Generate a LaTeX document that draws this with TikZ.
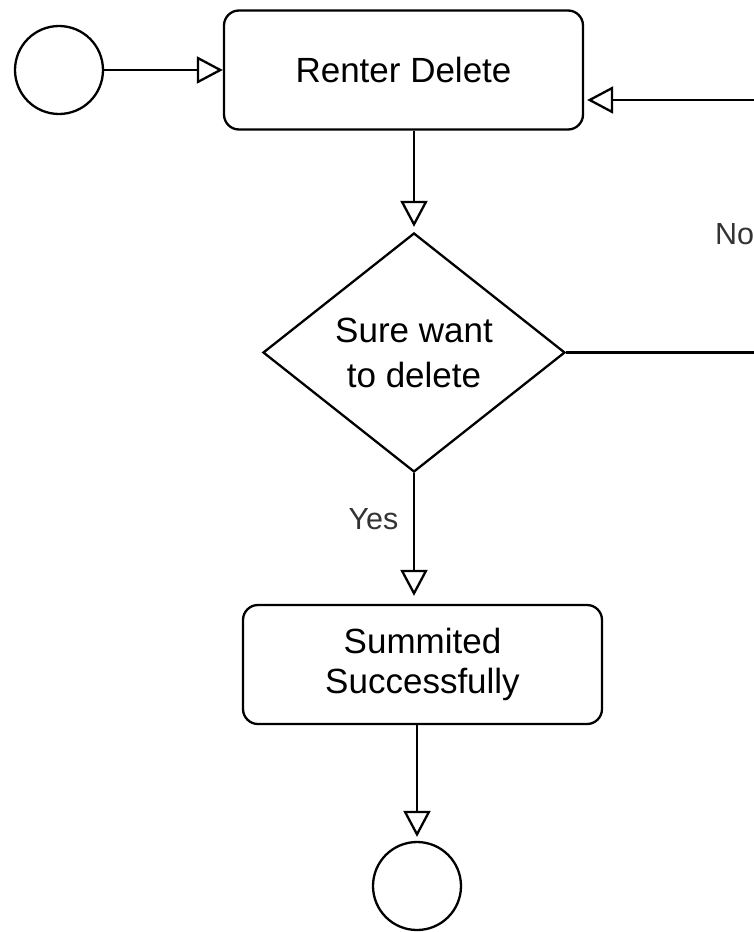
\documentclass[tikz,border=0pt]{standalone}
\usepackage{fontspec}
\setmainfont{Liberation Sans}
\usetikzlibrary{arrows.meta,shapes.geometric}
\begin{document}
\begin{tikzpicture}[x=1pt,y=-1pt,
  line width=2.3pt,
  flow/.style={draw=black, -{Triangle[open,length=26pt,width=27pt,line width=2.3pt]}},
  stepbox/.style={draw, rounded corners=15pt, minimum width=359pt, minimum height=119pt,
    inner sep=0pt, align=center, font=\fontsize{35}{40}\selectfont},
  choice/.style={draw, diamond, aspect=1.26, minimum width=302pt, minimum height=239pt,
    inner sep=0pt, align=center, font=\fontsize{35}{45}\selectfont},
  terminal/.style={draw, circle, minimum size=88pt, inner sep=0pt},
  edgelabel/.style={inner sep=0pt, font=\fontsize{30.5}{36}\selectfont, text=black!80}]
  \useasboundingbox (0,0) rectangle (753,932);

  % states of the delete flow
  \node[terminal] (start) at (59,70) {};
  \node[stepbox] (renter) at (403.5,70) {Renter Delete};
  \node[choice] (sure) at (414,352.5) {Sure want\\to delete};
  \node[stepbox] (done) at (422.5,664.5) {Summited\\Successfully};
  \node[terminal] (finish) at (417,886) {};

  % routing points of the "No" loop back to the delete step
  \coordinate (loopA) at (800,352.5);
  \coordinate (loopB) at (800,100);

  % connectors
  \draw[flow] (start.east) -- (renter.west);
  \draw[flow, shorten >=5pt] (sure.north |- renter.south) -- (sure.north);
  \draw[flow, shorten >=8pt] (sure.south) -- (sure.south |- done.north);
  \draw[flow, shorten >=4pt] (finish.north |- done.south) -- (finish.north);
  \draw[flow, shorten >=3pt] (sure.east) -- (loopA) -- (loopB) -- (renter.east |- loopB);

  % branch labels
  \node[edgelabel] (yes) at (373.5,519.5) {Yes};
  \node[edgelabel, anchor=west] (no) at (714,234) {No};
\end{tikzpicture}
\end{document}
